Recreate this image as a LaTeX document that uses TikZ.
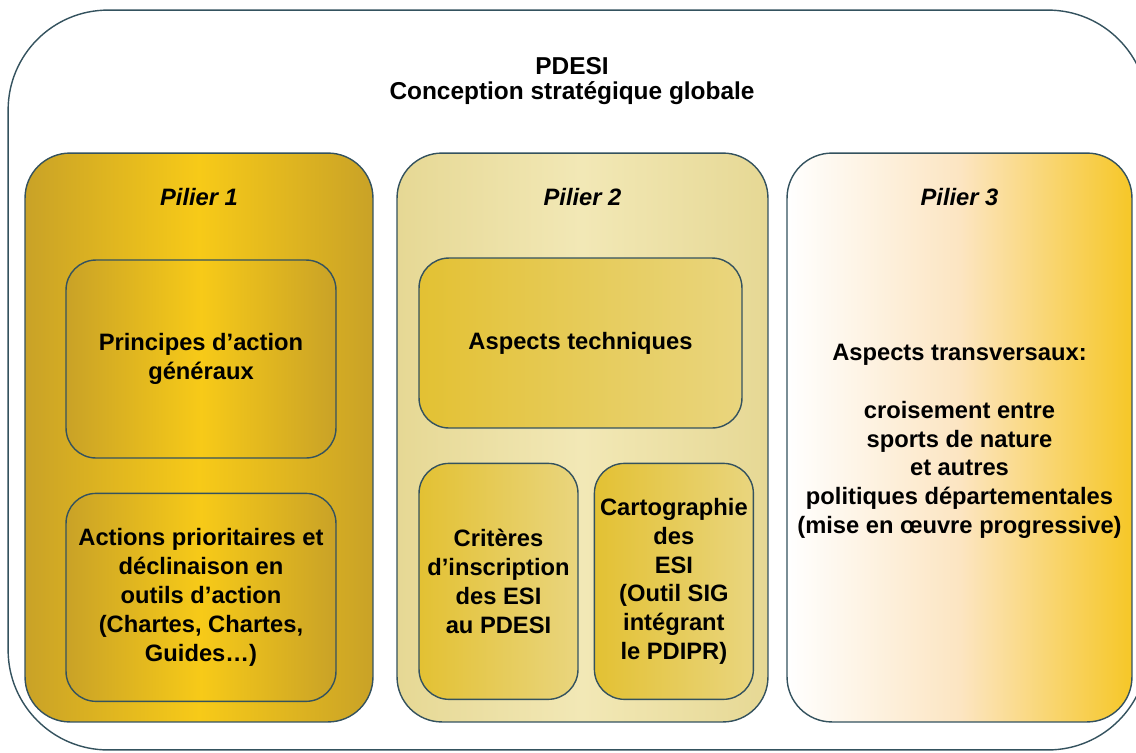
\documentclass[tikz,border=0pt]{standalone}
\usepackage{fontspec}
\setmainfont{Liberation Sans}
\usetikzlibrary{positioning}
\definecolor{edgegray}{HTML}{34525E}
\definecolor{golddark}{HTML}{C9A227}
\definecolor{goldlight}{HTML}{F7CA18}
\definecolor{khakiedge}{HTML}{E6D894}
\definecolor{khakilight}{HTML}{F2E8B6}
\definecolor{goldmid}{HTML}{E3C133}
\definecolor{goldpale}{HTML}{E9D57E}
\definecolor{peach}{HTML}{FCE5C2}
\definecolor{sunyellow}{HTML}{F6C727}
\tikzset{
    base/.style={draw=edgegray, line width=0.8pt, align=center, font=\bfseries\fontsize{13.5}{16.4}\selectfont},
    frame/.style={base, rectangle, rounded corners=2cm, fill=white},
    pillar/.style={base, rectangle, rounded corners=0.9cm, minimum height=11.38cm},
    innerbox/.style={base, rectangle, rounded corners=0.6cm},
    pillartitle/.style={font=\bfseries\itshape\fontsize{13.5}{16.4}\selectfont},
    pillartext/.style={align=center, font=\bfseries\fontsize{13.5}{16.4}\selectfont}
}

\begin{document}
\begin{tikzpicture}[x=0.02cm, y=-0.02cm]
    \useasboundingbox (0,0) rectangle (1136,752);
    \clip (0,0) rectangle (1136,752);
    \fill[white] (0,0) rectangle (1136,752);

    \node (frame) [frame, minimum width=22.8cm, minimum height=14.8cm] at (578,380) {};
    \node (title) [font=\bfseries\fontsize{13.9}{14.2}\selectfont, align=center] at (572,81) {PDESI\\Conception stratégique globale};

    % the three pillars
    \node (p1) [pillar, minimum width=6.96cm, left color=golddark, right color=golddark, middle color=goldlight] at (199,437.5) {};
    \node (p2) [pillar, minimum width=7.42cm, left color=khakiedge, right color=khakiedge, middle color=khakilight] at (582.5,437.5) {};
    \node (p3) [pillar, minimum width=6.9cm, left color=white, right color=sunyellow, middle color=peach] at (959.5,437.5) {};

    \node (t1) [pillartitle, below=0.6cm of p1.north] {Pilier 1};
    \node (t2) [pillartitle, below=0.6cm of p2.north] {Pilier 2};
    \node (t3) [pillartitle, below=0.6cm of p3.north] {Pilier 3};

    % pillar 1
    \node (a1) [innerbox, minimum width=5.4cm, minimum height=3.96cm, left color=golddark, right color=golddark, middle color=goldlight] at (201,359) {Principes d’action\\généraux};
    \node (a2) [innerbox, minimum width=5.4cm, minimum height=4.16cm, left color=golddark, right color=golddark, middle color=goldlight, below=0.68cm of a1]
        {Actions prioritaires et\\déclinaison en\\outils d’action\\(Chartes, Chartes,\\Guides…)};

    % pillar 2
    \node (b1) [innerbox, minimum width=6.46cm, minimum height=3.4cm, left color=goldmid, right color=goldpale] at (580.5,343) {Aspects techniques};
    \node (b2) [innerbox, minimum width=3.18cm, minimum height=4.72cm, inner xsep=1pt, left color=goldmid, right color=goldpale, below right=0.68cm and 0cm of b1.south west]
        {Critères\\d’inscription\\des ESI\\au PDESI};
    \node (b3) [innerbox, minimum width=3.18cm, minimum height=4.72cm, inner xsep=1pt, left color=goldmid, right color=goldpale, right=0.3cm of b2]
        {Cartographie\\des\\ESI\\(Outil SIG\\intégrant\\le PDIPR)};

    % pillar 3
    \node (transv) [pillartext] at ([yshift=-0.08cm]p3.center)
        {Aspects transversaux:\\[16.4pt]croisement entre\\sports de nature\\et autres\\politiques départementales\\(mise en œuvre progressive)};
\end{tikzpicture}
\end{document}
